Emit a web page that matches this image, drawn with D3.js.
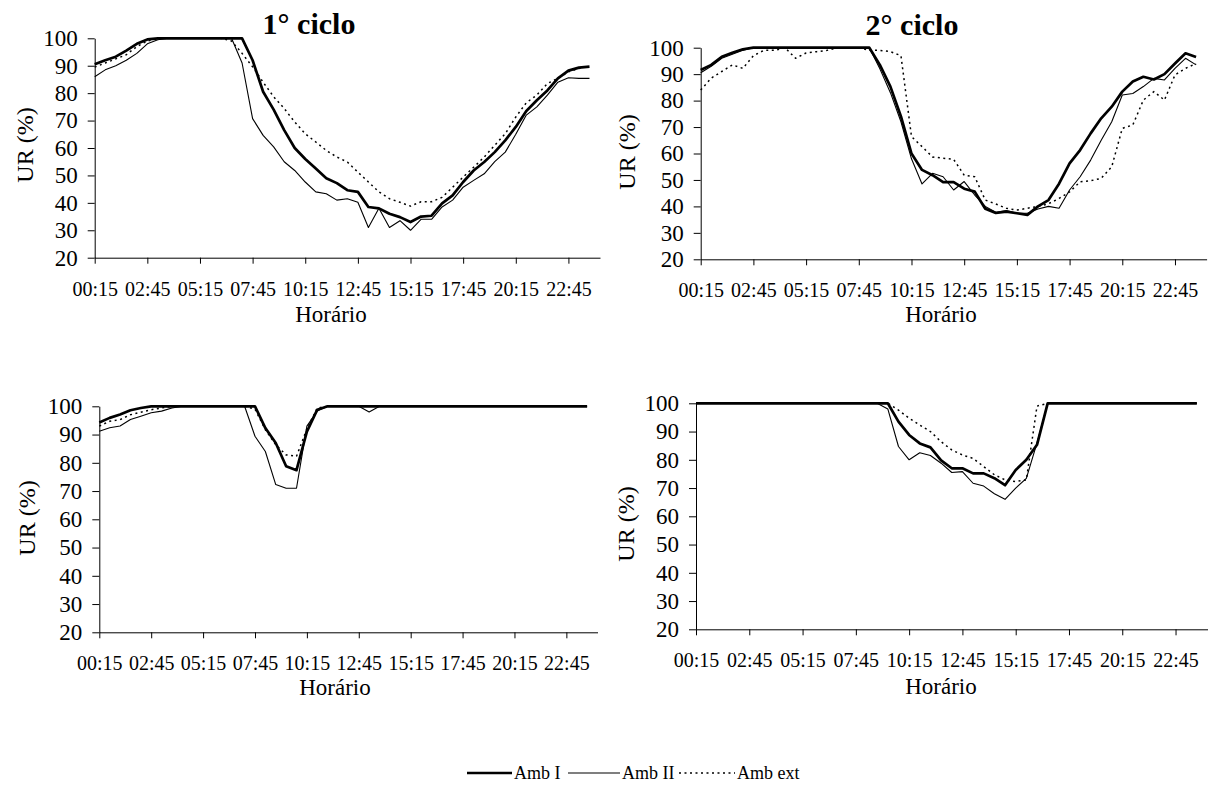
<!DOCTYPE html>
<html>
<head>
<meta charset="utf-8">
<script src="https://cdn.jsdelivr.net/npm/d3@7"></script>
<style>
  body { margin: 0; background: #fff; }
  svg text { font-family: "Times New Roman", "Liberation Serif", serif; fill: #000; }
</style>
</head>
<body>
<div id="chart"></div>
<script>
// tick labels of the category axis (one every 10 quarter-hours) and value ticks
const tickLabels = ["00:15", "02:45", "05:15", "07:45", "10:15", "12:45", "15:15", "17:45", "20:15", "22:45"];
const yTicks = [20, 30, 40, 50, 60, 70, 80, 90, 100];
const seriesNames = ["Amb I", "Amb II", "Amb ext"];

// readings every 30 min, 00:15 ... 23:45 (48 values)
// top-left panel (1° ciclo)
const p1AmbI = [90.5, 92, 93.3, 95.5, 98, 99.6, 100, 100, 100, 100, 100, 100, 100, 100, 100, 92,
  80.5, 74, 66.5, 60, 56, 52.5, 49, 47.2, 44.6, 44, 38.5, 38, 36, 34.8, 33, 35,
  35.3, 39.8, 42.7, 47.6, 51.8, 54.9, 58.5, 62.8, 67.7, 73.5, 77.4, 81, 85.4, 88.2, 89.3, 89.7];
const p1AmbII = [86, 88.5, 90, 92, 94.5, 98, 99.5, 100, 100, 100, 100, 100, 100, 100, 91, 70.7,
  64.6, 60.4, 55, 51.8, 47.6, 44, 43.3, 41, 41.5, 40.2, 31, 38, 31, 33.5, 30, 34,
  34, 38.5, 41, 45.7, 48.2, 50.6, 55, 58.5, 65, 72, 75, 79.3, 84, 85.6, 85.4, 85.4];
const p1AmbExt = [89.5, 91, 92.5, 94, 97, 99, 100, 100, 100, 100, 100, 100, 100, 99, 94.5, 89.6,
  84, 78.7, 74.4, 69.5, 65.2, 62.2, 59.1, 56.7, 54.9, 51.2, 47.6, 44, 41.5, 40.2, 38.8, 40.4,
  40.4, 42, 45.7, 49.4, 53, 56.7, 61, 65.2, 71.3, 76.5, 79.3, 83.5, 85.4, 87.8, 89, 89.9];

// top-right panel (2° ciclo)
const p2AmbI = [91.6, 93.5, 96.6, 98.1, 99.4, 100, 100, 100, 100, 100, 100, 100, 100, 100, 100, 100,
  100, 93.5, 85.3, 74, 60, 53.8, 51.8, 49.2, 49.2, 46.7, 45.6, 39.1, 37.5, 38, 37.4, 36.8,
  40, 42.4, 48.6, 56.3, 61.3, 67.6, 73.3, 77.7, 83.4, 87.2, 89, 88, 90, 94, 97.9, 96.5];
const p2AmbII = [90.5, 93, 96, 97.5, 99, 100, 100, 100, 100, 100, 100, 100, 100, 100, 100, 100,
  100, 92, 83, 72, 58, 48.5, 52.5, 51.2, 46.2, 49.4, 44.3, 40, 37.8, 38.4, 37.4, 37.4,
  39, 40, 39.3, 46.2, 51.2, 57.5, 65, 72, 82.1, 82.7, 85.3, 88.4, 87.8, 92.2, 96, 93.5];
const p2AmbExt = [84, 88.5, 91, 93.5, 92.2, 97, 99, 99, 100, 96, 98, 98.5, 99, 100, 100, 100,
  99, 99, 98.5, 97, 66.4, 62.6, 58.7, 58.2, 57.8, 51.8, 51.2, 42.4, 40.9, 39.3, 38.6, 39.3,
  40, 41, 43, 45.5, 49.3, 49.7, 50.6, 55, 69.5, 70.8, 80.2, 83.4, 80.2, 89.7, 92.2, 94];

// bottom-left panel
const p3AmbI = [94.3, 95.9, 97.1, 98.6, 99.4, 100, 100, 100, 100, 100, 100, 100, 100, 100, 100, 100,
  92.3, 87, 78.8, 77.4, 91, 98.8, 100, 100, 100, 100, 100, 100, 100, 100, 100, 100,
  100, 100, 100, 100, 100, 100, 100, 100, 100, 100, 100, 100, 100, 100, 100, 100];
const p3AmbII = [91.2, 92.4, 93, 95.3, 96.5, 97.7, 98.3, 99.4, 100, 100, 100, 100, 100, 100, 100, 89.4,
  84, 72.3, 71, 71, 93, 98.3, 100, 100, 100, 100, 98, 100, 100, 100, 100, 100,
  100, 100, 100, 100, 100, 100, 100, 100, 100, 100, 100, 100, 100, 100, 100, 100];
const p3AmbExt = [93, 94.7, 95.3, 97, 97.9, 98.8, 99.4, 100, 100, 100, 100, 100, 100, 100, 100, 99,
  91.7, 86.4, 82.8, 82.3, 92, 99.4, 100, 100, 100, 100, 100, 100, 100, 100, 100, 100,
  100, 100, 100, 100, 100, 100, 100, 100, 100, 100, 100, 100, 100, 100, 100, 100];

// bottom-right panel
const p4AmbI = [100, 100, 100, 100, 100, 100, 100, 100, 100, 100, 100, 100, 100, 100, 100, 100,
  100, 100, 100, 93.5, 88.8, 85.8, 84.4, 79.8, 77, 77, 75.2, 75.2, 73.5, 71, 76.4, 80,
  85.3, 100, 100, 100, 100, 100, 100, 100, 100, 100, 100, 100, 100, 100, 100, 100];
const p4AmbII = [100, 100, 100, 100, 100, 100, 100, 100, 100, 100, 100, 100, 100, 100, 100, 100,
  100, 100, 98, 84.7, 80, 82.5, 81.5, 78.8, 75.5, 75.8, 71.7, 70.7, 68, 66, 70, 73.4,
  86, 100, 100, 100, 100, 100, 100, 100, 100, 100, 100, 100, 100, 100, 100, 100];
const p4AmbExt = [100, 100, 100, 100, 100, 100, 100, 100, 100, 100, 100, 100, 100, 100, 100, 100,
  100, 100, 100, 97.6, 94.7, 92.3, 90, 86.4, 83.5, 81.7, 80.5, 77.6, 74.7, 72.9, 72.3, 72.9,
  99, 100, 100, 100, 100, 100, 100, 100, 100, 100, 100, 100, 100, 100, 100, 100];

const width = 1209;
const height = 787;
const serif = '"Times New Roman", "Liberation Serif", serif';

const svg = d3.select("#chart").append("svg")
  .attr("width", width)
  .attr("height", height);

// line look for each series
const lineStyle = {
  "Amb I": { width: 2.7, dash: null },
  "Amb II": { width: 1.1, dash: null },
  "Amb ext": { width: 1.5, dash: "2,3.5" }
};

const panels = [
  { x0: 94.7, x1: 600, top: 38.3, bottom: 257.7, title: "1° ciclo", tx: 309, ty: 34,
    yl: [25, 145], xl: [331, 322], series: [p1AmbI, p1AmbII, p1AmbExt] },
  { x0: 700.7, x1: 1206.6, top: 47.7, bottom: 259.3, title: "2° ciclo", tx: 912, ty: 35,
    yl: [627, 152], xl: [941, 322], series: [p2AmbI, p2AmbII, p2AmbExt] },
  { x0: 99.3, x1: 597.5, top: 406.3, bottom: 632.3, title: null,
    yl: [27, 518], xl: [335, 695], series: [p3AmbI, p3AmbII, p3AmbExt] },
  { x0: 696, x1: 1207.5, top: 403.3, bottom: 629.3, title: null,
    yl: [626, 524], xl: [941, 694], series: [p4AmbI, p4AmbII, p4AmbExt] }
];

function drawPanel(p) {
  // quarter-hour index from 00:15, axis runs to index 96
  const xScale = d3.scaleLinear().domain([0, 96]).range([p.x0, p.x1]);
  const yScale = d3.scaleLinear().domain([20, 100]).range([p.bottom, p.top]);

  const xAxis = svg.append("g")
    .attr("transform", `translate(0,${p.bottom})`)
    .call(d3.axisBottom(xScale)
      .tickValues(tickLabels.map((t, i) => i * 10))
      .tickFormat((d, i) => tickLabels[i])
      .tickSize(6)
      .tickSizeOuter(0)
      .tickPadding(18));
  xAxis.attr("font-family", serif);
  xAxis.selectAll("text").style("font-size", "20px").style("font-family", serif);

  const yAxis = svg.append("g")
    .attr("transform", `translate(${p.x0},0)`)
    .call(d3.axisLeft(yScale)
      .tickValues(yTicks)
      .tickSize(7)
      .tickSizeOuter(0)
      .tickPadding(10));
  yAxis.attr("font-family", serif);
  yAxis.selectAll("text").style("font-size", "23px").style("font-family", serif);

  svg.selectAll(".domain, .tick line").attr("stroke", "#000");

  const line = d3.line()
    .x((d, i) => xScale(i * 2))
    .y((d) => yScale(d));

  // draw dotted first, thick last
  [2, 1, 0].forEach((k) => {
    const st = lineStyle[seriesNames[k]];
    svg.append("path")
      .datum(p.series[k])
      .attr("fill", "none")
      .attr("stroke", "#000")
      .attr("stroke-width", st.width)
      .attr("stroke-linejoin", "round")
      .attr("stroke-dasharray", st.dash)
      .attr("d", line);
  });

  if (p.title) {
    svg.append("text")
      .attr("x", p.tx)
      .attr("y", p.ty)
      .attr("text-anchor", "middle")
      .style("font-size", "30px")
      .style("font-weight", "bold")
      .text(p.title);
  }

  svg.append("text")
    .attr("transform", `translate(${p.yl[0]},${p.yl[1]}) rotate(-90)`)
    .attr("text-anchor", "middle")
    .attr("dy", "0.35em")
    .style("font-size", "24px")
    .text("UR (%)");

  svg.append("text")
    .attr("x", p.xl[0])
    .attr("y", p.xl[1])
    .attr("text-anchor", "middle")
    .style("font-size", "23px")
    .text("Horário");
}

panels.forEach(drawPanel);

// legend along the bottom
const legendItems = [
  { name: "Amb I", x1: 467, x2: 512 },
  { name: "Amb II", x1: 568, x2: 620 },
  { name: "Amb ext", x1: 679, x2: 735 }
];
const legendY = 773;
legendItems.forEach((it) => {
  const st = lineStyle[it.name];
  svg.append("line")
    .attr("x1", it.x1).attr("x2", it.x2)
    .attr("y1", legendY).attr("y2", legendY)
    .attr("stroke", "#000")
    .attr("stroke-width", st.width)
    .attr("stroke-dasharray", st.dash);
  svg.append("text")
    .attr("x", it.x2 + 2)
    .attr("y", legendY + 6)
    .style("font-size", "18px")
    .text(it.name);
});
</script>
</body>
</html>
